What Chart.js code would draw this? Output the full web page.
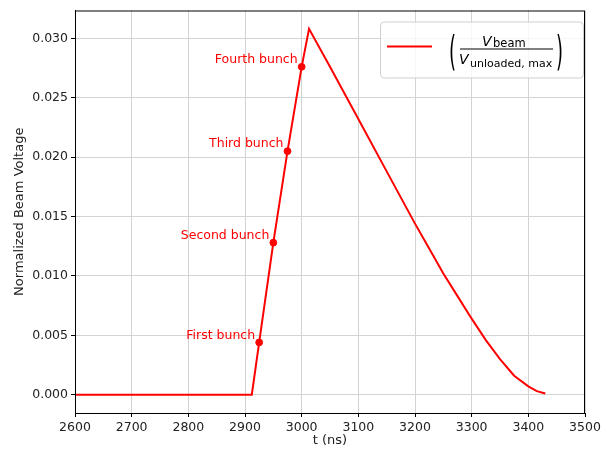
<!DOCTYPE html>
<html>
<head>
<meta charset="utf-8">
<title>Normalized Beam Voltage</title>
<script src="https://cdn.jsdelivr.net/npm/chart.js@4/dist/chart.umd.min.js"></script>
<style>
  html, body { margin: 0; padding: 0; background: #fff; }
  #wrap { width: 611px; height: 452px; }
</style>
</head>
<body>
<div id="wrap"><canvas id="beam-chart" width="611" height="452"></canvas></div>
<script>
// Dados
const timeNs = [2600, 2912, 2925, 2950, 2975, 3000, 3013, 3050, 3100, 3150, 3200, 3225, 3250, 3275, 3300, 3325, 3350, 3375, 3400, 3415, 3430];
const beamVoltage = [0, 0, 0.0044, 0.0128, 0.0205, 0.0276, 0.0308, 0.0276, 0.0232, 0.0188, 0.0144, 0.0123, 0.0102, 0.0083, 0.0064, 0.0046, 0.0030, 0.0016, 0.0007, 0.0003, 0.0001];

const bunchTimes = [2925, 2950, 2975, 3000];
const bunchValues = [0.0044, 0.0128, 0.0205, 0.0276];
const bunchLabels = ['First bunch', 'Second bunch', 'Third bunch', 'Fourth bunch'];

const xTicks = [2600, 2700, 2800, 2900, 3000, 3100, 3200, 3300, 3400, 3500];
const yTicks = [0, 0.005, 0.010, 0.015, 0.020, 0.025, 0.030];

const FONT = "'DejaVu Sans', sans-serif";
const RED = '#ff0000';

// Moldura em volta da área do gráfico
const framePlugin = {
  id: 'frame',
  afterDraw(chart) {
    const { ctx, chartArea: a } = chart;
    ctx.save();
    ctx.strokeStyle = '#000';
    ctx.lineWidth = 1;
    ctx.strokeRect(a.left + 0.5, a.top + 0.5, a.right - a.left - 1, a.bottom - a.top);
    ctx.restore();
  }
};

// Rótulos dos bunches
const bunchLabelPlugin = {
  id: 'bunchLabels',
  afterDatasetsDraw(chart) {
    const { ctx, scales } = chart;
    ctx.save();
    ctx.fillStyle = RED;
    ctx.font = '12.5px ' + FONT;
    ctx.textAlign = 'right';
    ctx.textBaseline = 'middle';
    bunchTimes.forEach((t, i) => {
      const px = scales.x.getPixelForValue(t);
      const py = scales.y.getPixelForValue(bunchValues[i]);
      ctx.fillText(bunchLabels[i], px - 4, py - 7);
    });
    ctx.restore();
  }
};

// parêntese esticado na vertical
function drawParen(ctx, ch, x, top) {
  ctx.save();
  ctx.translate(x, top);
  ctx.scale(1, 2.3);
  ctx.font = '18px ' + FONT;
  ctx.textBaseline = 'alphabetic';
  ctx.fillText(ch, 0, 13.7);
  ctx.restore();
}

// Legenda com a fração V_beam / V_unloaded,max
const legendPlugin = {
  id: 'fractionLegend',
  afterDraw(chart) {
    const { ctx, chartArea: a } = chart;
    const bw = 203, bh = 56;
    const bx = a.right - bw - 2, by = a.top + 11;
    ctx.save();
    ctx.fillStyle = 'rgba(255,255,255,0.8)';
    ctx.strokeStyle = '#d0d0d0';
    ctx.lineWidth = 1;
    ctx.beginPath();
    ctx.roundRect(bx + 0.5, by + 0.5, bw, bh, 4);
    ctx.fill();
    ctx.stroke();

    // amostra da linha
    ctx.strokeStyle = RED;
    ctx.lineWidth = 1.9;
    ctx.beginPath();
    ctx.moveTo(bx + 7, by + 25);
    ctx.lineTo(bx + 52, by + 25);
    ctx.stroke();

    ctx.fillStyle = '#000';
    ctx.textAlign = 'left';
    ctx.textBaseline = 'alphabetic';
    drawParen(ctx, '(', bx + 69, by + 12);
    drawParen(ctx, ')', bx + 176, by + 12);

    // numerador
    ctx.font = 'italic 14px ' + FONT;
    ctx.fillText('V', bx + 102, by + 24);
    ctx.font = '11.5px ' + FONT;
    ctx.fillText('beam', bx + 113, by + 25.5);

    // barra
    ctx.strokeStyle = '#000';
    ctx.lineWidth = 1;
    ctx.beginPath();
    ctx.moveTo(bx + 80, by + 27.5);
    ctx.lineTo(bx + 173, by + 27.5);
    ctx.stroke();

    // denominador
    ctx.font = 'italic 14px ' + FONT;
    ctx.fillText('V', bx + 79, by + 42.5);
    ctx.font = '11px ' + FONT;
    ctx.fillText('unloaded, max', bx + 90, by + 45);
    ctx.restore();
  }
};

const ctx = document.getElementById('beam-chart').getContext('2d');
new Chart(ctx, {
  type: 'line',
  data: {
    datasets: [
      {
        label: 'V_beam / V_unloaded,max',
        data: timeNs.map((t, i) => ({ x: t, y: beamVoltage[i] })),
        borderColor: RED,
        borderWidth: 2,
        pointRadius: 0,
        tension: 0,
        fill: false,
        order: 2
      },
      {
        label: 'bunches',
        type: 'scatter',
        data: bunchTimes.map((t, i) => ({ x: t, y: bunchValues[i] })),
        backgroundColor: RED,
        borderColor: RED,
        pointRadius: 3.4,
        order: 1
      }
    ]
  },
  options: {
    responsive: false,
    animation: false,
    devicePixelRatio: 1,
    layout: { padding: { left: 0, right: 26, top: 6, bottom: 0 } },
    plugins: {
      legend: { display: false },
      tooltip: { enabled: false }
    },
    scales: {
      x: {
        type: 'linear',
        min: 2600,
        max: 3500,
        afterBuildTicks: scale => { scale.ticks = xTicks.map(v => ({ value: v })); },
        afterFit: scale => { scale.height = 39; },
        ticks: {
          callback: v => String(v),
          color: '#222',
          font: { family: FONT, size: 12.5 },
          padding: 3,
          maxRotation: 0
        },
        grid: { color: '#d3d3d3', tickColor: '#000', tickLength: 4, lineWidth: 1 },
        border: { color: '#000', width: 1 },
        title: {
          display: true,
          text: 't (ns)',
          color: '#222',
          font: { family: FONT, size: 13 },
          padding: { top: 0, bottom: 4 }
        }
      },
      y: {
        type: 'linear',
        min: -0.00154,
        max: 0.03234,
        afterBuildTicks: scale => { scale.ticks = yTicks.map(v => ({ value: v })); },
        afterFit: scale => { scale.width = 75; },
        ticks: {
          callback: v => v.toFixed(3),
          color: '#222',
          font: { family: FONT, size: 12.5 },
          padding: 3
        },
        grid: { color: '#d3d3d3', tickColor: '#000', tickLength: 4, lineWidth: 1 },
        border: { color: '#000', width: 1 },
        title: {
          display: true,
          text: 'Normalized Beam Voltage',
          color: '#222',
          font: { family: FONT, size: 13 },
          padding: { top: 12, bottom: 0 }
        }
      }
    }
  },
  plugins: [framePlugin, bunchLabelPlugin, legendPlugin]
});
</script>
</body>
</html>
